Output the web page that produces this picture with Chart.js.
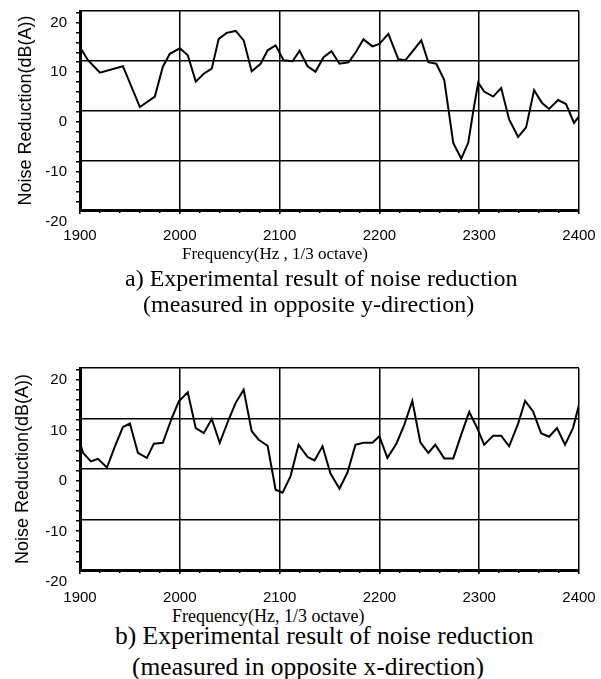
<!DOCTYPE html>
<html>
<head>
<meta charset="utf-8">
<title>Noise reduction</title>
<script src="https://cdn.jsdelivr.net/npm/chart.js@4.4.0/dist/chart.umd.min.js"></script>
<style>
  body { margin: 0; background: #fff; }
  #page { position: relative; width: 601px; height: 679px; overflow: hidden; }
  #page canvas { position: absolute; left: 0; }
  .cap { position: absolute; white-space: nowrap; line-height: 1; color: #000;
         font-family: "Liberation Serif", "Times New Roman", serif; }
</style>
</head>
<body>
<div id="page">
  <canvas id="chartA" width="601" height="245" style="top:0px"></canvas>
  <div class="cap" style="left:182px; top:245px; font-size:17px">Frequency(Hz , 1/3 octave)</div>
  <div class="cap" style="left:125px; top:266px; font-size:24px">a) Experimental result of noise reduction</div>
  <div class="cap" style="left:143px; top:292px; font-size:24px">(measured in opposite y-direction)</div>

  <canvas id="chartB" width="601" height="248" style="top:357px"></canvas>
  <div class="cap" style="left:172px; top:607px; font-size:18px">Frequency(Hz, 1/3 octave)</div>
  <div class="cap" style="left:115px; top:623px; font-size:25.5px">b) Experimental result of noise reduction</div>
  <div class="cap" style="left:132px; top:654px; font-size:25.5px">(measured in opposite x-direction)</div>
</div>
<script>
// axis ticks
const xTickValues = [1900, 2000, 2100, 2200, 2300, 2400];
const yTickLabels = ['-20', '-10', '0', '10', '20'];
// the printed grid sits a little above the tick labels
const yGridValues = [-17.7, -7.7, 2.3, 12.3, 22.3];

// a) opposite y-direction
const freqA = [1900, 1908, 1920, 1943, 1960, 1975, 1983, 1990, 2000, 2008,
  2016, 2024, 2032, 2039, 2047, 2056, 2064, 2072, 2081, 2088,
  2096, 2104, 2113, 2120, 2128, 2136, 2144, 2152, 2160, 2169,
  2176, 2184, 2193, 2200, 2209, 2219, 2226, 2234, 2242, 2249,
  2257, 2265, 2274, 2282, 2289, 2294, 2299, 2305, 2314, 2322,
  2330, 2339, 2347, 2355, 2363, 2370, 2379, 2387, 2395, 2400];
const noiseA = [15.0, 12.4, 9.9, 11.2, 3.0, 5.1, 11.1, 13.7, 14.8, 13.4,
  8.1, 9.7, 10.7, 16.7, 17.9, 18.3, 16.4, 10.2, 11.7, 14.4,
  15.4, 12.4, 12.2, 14.3, 11.2, 10.1, 13.0, 14.2, 11.7, 12.0,
  13.9, 16.6, 15.2, 15.7, 17.7, 12.6, 12.4, 14.4, 16.4, 12.0,
  11.7, 8.4, -4.2, -7.4, -4.2, 2.1, 7.9, 6.1, 5.1, 6.8,
  0.5, -3.0, -1.1, 6.4, 3.8, 2.6, 4.4, 3.6, -0.2, 1.1];

// b) opposite x-direction
const freqB = [1900, 1903, 1911, 1918, 1927, 1935, 1943, 1950, 1958, 1967,
  1974, 1983, 1992, 1999, 2008, 2016, 2024, 2032, 2040, 2049,
  2056, 2064, 2072, 2079, 2088, 2096, 2103, 2111, 2119, 2128,
  2135, 2143, 2151, 2160, 2168, 2176, 2184, 2193, 2200, 2208,
  2217, 2225, 2233, 2241, 2249, 2256, 2265, 2274, 2282, 2290,
  2298, 2305, 2314, 2322, 2330, 2339, 2346, 2354, 2362, 2370,
  2378, 2386, 2394, 2400];
const noiseB = [7.5, 5.5, 3.8, 4.3, 2.6, 6.8, 10.6, 11.3, 5.5, 4.5,
  7.3, 7.5, 12.4, 15.7, 17.5, 10.4, 9.4, 12.2, 7.5, 12.1,
  15.4, 18.0, 9.8, 8.1, 6.9, -1.8, -2.4, 0.9, 7.1, 4.7,
  4.0, 6.8, 1.4, -1.6, 1.6, 7.1, 7.5, 7.5, 8.8, 4.5,
  7.3, 11.1, 15.8, 7.6, 5.5, 7.1, 4.4, 4.4, 9.1, 13.6,
  10.4, 7.1, 8.9, 8.9, 6.8, 11.3, 15.8, 13.7, 9.4, 8.7,
  10.4, 7.1, 10.4, 15.0];

const sans = '"Liberation Sans", Arial, sans-serif';

// small tick marks along the axes (no grid lines)
function minorTicks(from, to, step) {
  const out = [];
  for (let v = from; v <= to + 1e-9; v += step) out.push({ value: v });
  return out;
}

function buildChart(canvasId, freqs, values, cfg) {
  const points = freqs.map((f, i) => ({ x: f, y: values[i] }));
  const xMin = xTickValues[0];
  const xMax = xTickValues[xTickValues.length - 1];
  const yMin = yGridValues[0];
  const yMax = yGridValues[yGridValues.length - 1];
  return new Chart(document.getElementById(canvasId), {
    type: 'line',
    data: {
      datasets: [{
        data: points,
        borderColor: '#000',
        borderWidth: 2,
        pointRadius: 0,
        tension: 0,
        fill: false
      }]
    },
    options: {
      responsive: false,
      animation: false,
      layout: { padding: { top: 11, right: 22, left: 0, bottom: 0 } },
      plugins: { legend: { display: false }, tooltip: { enabled: false } },
      scales: {
        x: {
          type: 'linear',
          min: xMin,
          max: xMax,
          afterBuildTicks: s => { s.ticks = xTickValues.map(v => ({ value: v })); },
          afterFit: s => {
            s.height = cfg.xHeight;
            s.paddingLeft = 0;
            s.paddingRight = 0;
          },
          ticks: {
            color: '#000', font: { family: sans, size: 15 },
            padding: cfg.xPad, maxRotation: 0,
            callback: v => String(v)
          },
          grid: { color: '#000', lineWidth: 1.5, tickLength: 4 },
          border: { color: '#000', width: 3 }
        },
        xMinor: {
          type: 'linear',
          position: 'bottom',
          weight: -1,
          min: xMin,
          max: xMax,
          afterBuildTicks: s => { s.ticks = minorTicks(1920, 2380, 20); },
          afterFit: s => { s.height = 0; s.paddingLeft = 0; s.paddingRight = 0; },
          ticks: { display: false },
          grid: { drawOnChartArea: false, color: '#000', lineWidth: 1.5, tickLength: 3 },
          border: { display: false }
        },
        y: {
          type: 'linear',
          min: yMin,
          max: yMax,
          afterBuildTicks: s => { s.ticks = yGridValues.map(v => ({ value: v })); },
          afterFit: s => {
            s.width = 80;
            s.paddingTop = 0;
            s.paddingBottom = 0;
          },
          ticks: {
            color: '#000', font: { family: sans, size: 15 },
            padding: 13, labelOffset: cfg.labelOffset,
            callback: (v, i) => yTickLabels[i]
          },
          grid: { color: '#000', lineWidth: 1.5, drawTicks: false },
          border: { color: '#000', width: 3 },
          title: {
            display: true,
            text: 'Noise Reduction(dB(A))',
            color: '#000',
            font: { family: sans, size: 18, lineHeight: 1 },
            padding: { top: cfg.titlePad, bottom: 0 }
          }
        },
        yMinor: {
          type: 'linear',
          position: 'left',
          weight: -1,
          min: yMin,
          max: yMax,
          afterBuildTicks: s => { s.ticks = minorTicks(-16, 22, 2); },
          afterFit: s => { s.width = 0; s.paddingTop = 0; s.paddingBottom = 0; },
          ticks: { display: false },
          grid: { drawOnChartArea: false, color: '#000', lineWidth: 1.5, tickLength: 4 },
          border: { display: false }
        }
      }
    }
  });
}

buildChart('chartA', freqA, noiseA, { xHeight: 35, xPad: 13, labelOffset: 11.5, titlePad: 17 });
buildChart('chartB', freqB, noiseB, { xHeight: 35, xPad: 15, labelOffset: 12, titlePad: 14 });
</script>
</body>
</html>
